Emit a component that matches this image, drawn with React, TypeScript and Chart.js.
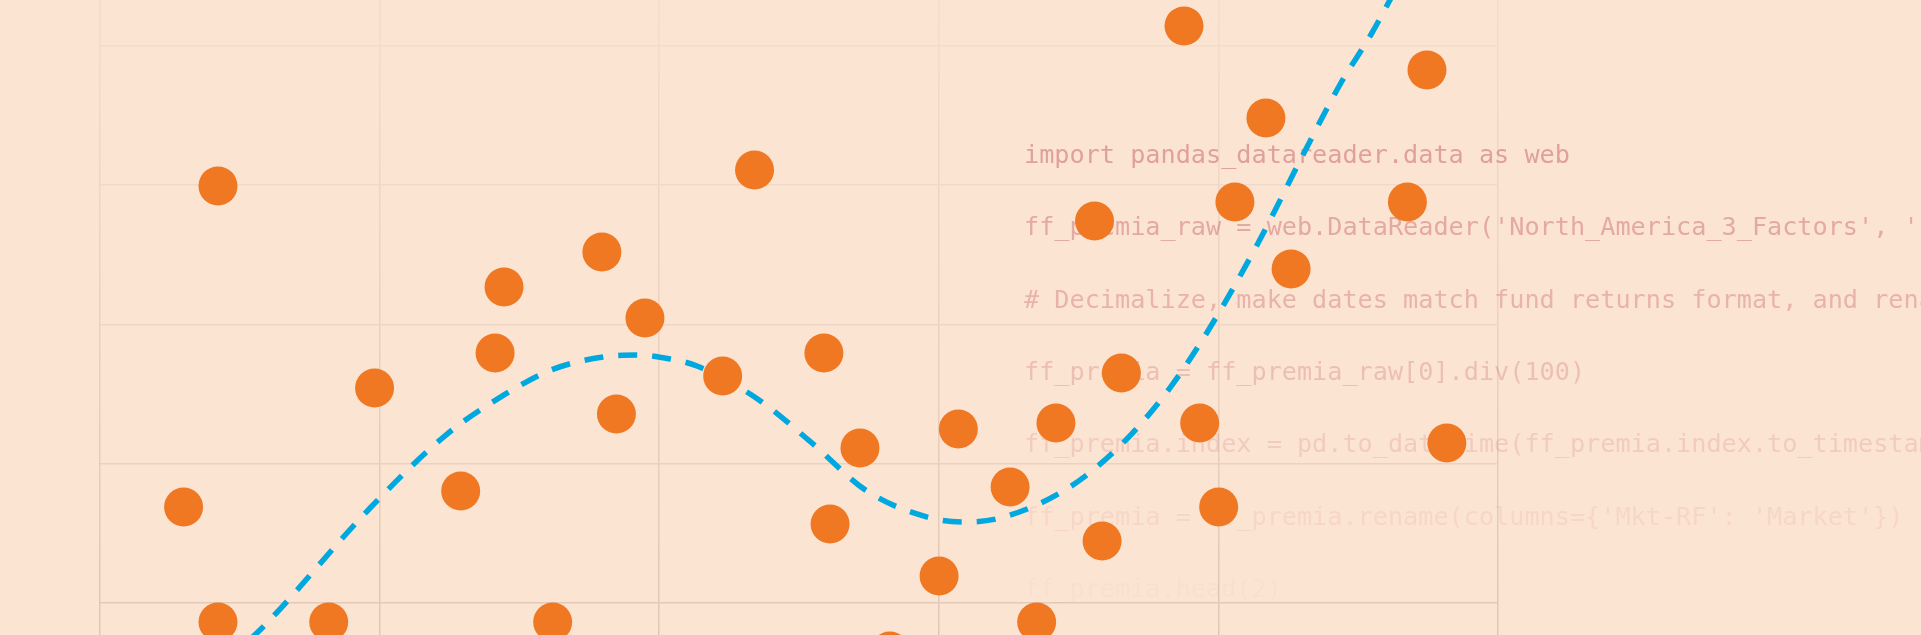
import React, { useEffect, useRef } from "react";
import { Chart, registerables } from "chart.js";

Chart.register(...registerables);

// Scatter points (x, y)
const POINT_X = [
  0.422, 1.445, 1.795, 1.949, 1.413, 0.982, 1.847, 0.299, 1.29, 0.422, 0.818, 1.619,
  3.877, 4.17, 2.341, 3.557, 4.059, 4.26, 4.746, 4.676, 2.227, 2.589, 2.718, 3.07,
  2.611, 3.255, 3.419, 3.653, 3.933, 4.001, 3.584, 3.001, 3.35, 2.825, 4.817,
];
const POINT_Y = [
  2.995, 2.269, 2.521, 2.047, 1.795, 1.544, 1.357, 0.689, 0.804, -0.136, -0.136, -0.136,
  4.144, 3.483, 3.109, 2.743, 2.88, 2.399, 3.828, 2.88, 1.63, 1.795, 1.113, 1.25,
  0.567, 0.833, 1.293, 1.652, 1.293, 0.689, 0.445, 0.194, -0.136, -0.345, 1.149,
];

// Fitted curve
const CURVE_X = [
  0.447, 0.583, 0.966, 1.237, 1.445, 1.613, 1.799, 1.924, 2.039, 2.135, 2.357, 2.55,
  2.743, 2.972, 3.097, 3.219, 3.451, 3.637, 3.813, 3.956, 4.142, 4.317, 4.438, 4.549, 4.685,
];
const CURVE_Y = [
  -0.424, -0.172, 0.682, 1.206, 1.494, 1.673, 1.767, 1.781, 1.752, 1.702, 1.458, 1.142,
  0.804, 0.61, 0.582, 0.61, 0.811, 1.106, 1.508, 1.932, 2.585, 3.275, 3.734, 4.093, 4.603,
];

const X_MIN = 0;
const X_MAX = 5;
const Y_MIN = -0.2298;
const Y_MAX = 4.33;
const Y_TICKS = [0, 1, 2, 3, 4];

const CODE_LINES = [
  "import pandas_datareader.data as web",
  "ff_premia_raw = web.DataReader('North_America_3_Factors', 'famafrench', start='1990-01-01')",
  "# Decimalize, make dates match fund returns format, and rename columns",
  "ff_premia = ff_premia_raw[0].div(100)",
  "ff_premia.index = pd.to_datetime(ff_premia.index.to_timestamp())",
  "ff_premia = ff_premia.rename(columns={'Mkt-RF': 'Market'})",
  "ff_premia.head(2)",
];
const CODE_ALPHA = [0.55, 0.48, 0.4, 0.3, 0.2, 0.11, 0.03];

const BG = "#FCE4D3";
const Y_GRID_COLORS: Record<number, string> = {
  0: "#E3C9B8",
  1: "#EAD1C0",
  2: "#EDD6C5",
  3: "#F1D9C9",
  4: "#F4DCCC",
};

export default function App() {
  const ref = useRef<HTMLCanvasElement | null>(null);

  useEffect(() => {
    document.body.style.margin = "0";
    const canvas = ref.current!;
    const bgPlugin = {
      id: "bg",
      beforeDraw(chart: any) {
        const c = chart.ctx;
        c.save();
        c.fillStyle = BG;
        c.fillRect(0, 0, chart.width, chart.height);
        c.restore();
      },
    };
    const codePlugin = {
      id: "code",
      beforeDatasetsDraw(chart: any) {
        const c = chart.ctx;
        c.save();
        c.font = "25.2px 'DejaVu Sans Mono', monospace";
        c.textBaseline = "alphabetic";
        c.textAlign = "left";
        CODE_LINES.forEach((line, i) => {
          c.fillStyle = `rgba(200,105,110,${CODE_ALPHA[i]})`;
          c.fillText(line, 1024, 163 + i * 72.3);
        });
        c.restore();
      },
    };

    let xGrad: any = null;
    const chart = new Chart(canvas, {
      type: "scatter",
      data: {
        datasets: [
          {
            type: "scatter",
            data: POINT_X.map((x, i) => ({ x, y: POINT_Y[i] })),
            backgroundColor: "#F07823",
            borderWidth: 0,
            pointRadius: 19.5,
            pointHoverRadius: 19.5,
            order: 0,
            clip: false as any,
          },
          {
            type: "line",
            data: CURVE_X.map((x, i) => ({ x, y: CURVE_Y[i] })),
            borderColor: "#00A8E0",
            borderWidth: 5.5,
            borderDash: [19, 15],
            pointRadius: 0,
            cubicInterpolationMode: "monotone",
            fill: false,
            order: 1,
          } as any,
        ],
      },
      options: {
        animation: false,
        responsive: false,
        devicePixelRatio: 1,
        layout: { autoPadding: false, padding: { left: 100, right: 423, top: 0, bottom: 0 } },
        plugins: { legend: { display: false }, tooltip: { enabled: false } },
        events: [],
        scales: {
          x: {
            type: "linear",
            min: X_MIN,
            max: X_MAX,
            ticks: { display: false, stepSize: 1 },
            border: { display: false },
            grid: {
              drawTicks: false,
              lineWidth: 1.5,
              color: (ctx: any) => {
                if (!xGrad) {
                  const g = ctx.chart.ctx.createLinearGradient(0, 0, 0, 635);
                  g.addColorStop(0, "#F4DDCD");
                  g.addColorStop(1, "#E0C6B5");
                  xGrad = g;
                }
                return xGrad;
              },
            },
          },
          y: {
            type: "linear",
            min: Y_MIN,
            max: Y_MAX,
            afterBuildTicks: (s: any) => {
              s.ticks = Y_TICKS.map((v) => ({ value: v }));
            },
            ticks: { display: false },
            border: { display: false },
            grid: {
              drawTicks: false,
              lineWidth: 1.5,
              color: (ctx: any) => Y_GRID_COLORS[ctx.tick?.value] ?? "#EDD6C5",
            },
          },
        },
      },
      plugins: [bgPlugin, codePlugin],
    });
    return () => chart.destroy();
  }, []);

  return (
    <div style={{ position: "fixed", left: 0, top: 0, width: 1921, height: 635, background: BG }}>
      <canvas ref={ref} width={1921} height={635} style={{ display: "block" }} />
    </div>
  );
}
